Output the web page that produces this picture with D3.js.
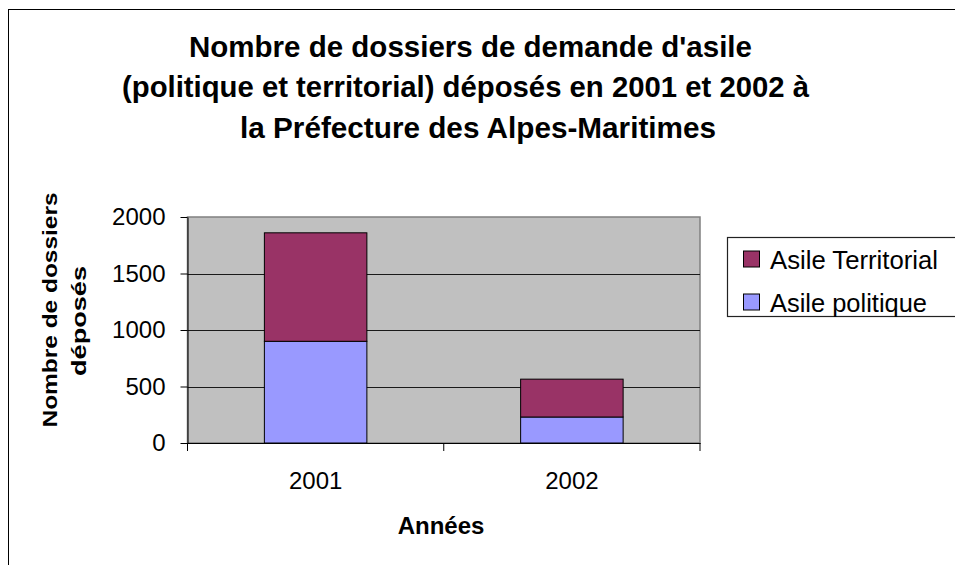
<!DOCTYPE html>
<html>
<head>
<meta charset="utf-8">
<script src="https://cdn.jsdelivr.net/npm/d3@7"></script>
<style>
  html, body { margin: 0; padding: 0; background: #fff; }
  svg { display: block; font-family: "Liberation Sans", Arial, sans-serif; }
</style>
</head>
<body>
<svg id="chart" width="955" height="565"></svg>
<script>
// ---- data ----
const years = ["2001", "2002"];
const asilePolitique = [900, 230];
const asileTerritorial = [960, 335];
const seriesNames = ["Asile politique", "Asile Territorial"];
const seriesColors = ["#9999FF", "#993366"];
const yTicks = [0, 500, 1000, 1500, 2000];
const titleLines = [
  "Nombre de dossiers de demande d'asile",
  "(politique et territorial) déposés en 2001 et 2002 à",
  "la Préfecture des Alpes-Maritimes"
];
const yLabelLines = ["Nombre de dossiers", "déposés"];
const xLabel = "Années";

// ---- layout ----
const W = 955, H = 565;
const plot = { left: 187.5, right: 700, top: 217, bottom: 443 };

const svg = d3.select("#chart");

// outer frame (right/bottom are outside the picture)
svg.append("rect")
  .attr("x", 8.5).attr("y", 9.5)
  .attr("width", W + 20).attr("height", H + 20)
  .attr("fill", "#fff").attr("stroke", "#000").attr("stroke-width", 1);

// title
const titleLayout = [
  { x: 189, y: 57, w: 563 },
  { x: 122, y: 97, w: 687 },
  { x: 240, y: 138, w: 476 }
];
titleLines.forEach((t, i) => {
  svg.append("text")
    .attr("x", titleLayout[i].x).attr("y", titleLayout[i].y)
    .attr("font-size", 30).attr("font-weight", "bold")
    .attr("textLength", titleLayout[i].w)
    .attr("lengthAdjust", "spacingAndGlyphs")
    .attr("fill", "#000")
    .text(t);
});

// scales
const x = d3.scaleBand().domain(years).range([plot.left, plot.right]).padding(0);
const y = d3.scaleLinear().domain([0, 2000]).range([plot.bottom, plot.top]);

// plot background
svg.append("rect")
  .attr("x", plot.left).attr("y", plot.top)
  .attr("width", plot.right - plot.left).attr("height", plot.bottom - plot.top)
  .attr("fill", "#C0C0C0").attr("stroke", "#808080").attr("stroke-width", 1.5);

// gridlines
svg.append("g").selectAll("line")
  .data(yTicks.filter(d => d > 0 && d < 2000))
  .join("line")
  .attr("x1", plot.left).attr("x2", plot.right)
  .attr("y1", d => Math.round(y(d)) + 0.5).attr("y2", d => Math.round(y(d)) + 0.5)
  .attr("stroke", "#1a1a1a").attr("stroke-width", 1);

// stacked bars
const table = years.map((yr, i) => ({
  year: yr,
  "Asile politique": asilePolitique[i],
  "Asile Territorial": asileTerritorial[i]
}));
const stacked = d3.stack().keys(seriesNames)(table);
const barFrac = 0.4;
const bw = x.bandwidth() * barFrac;
svg.append("g").selectAll("g")
  .data(stacked)
  .join("g")
  .attr("fill", (d, i) => seriesColors[i])
  .selectAll("rect")
  .data(d => d)
  .join("rect")
  .attr("x", d => x(d.data.year) + (x.bandwidth() - bw) / 2)
  .attr("width", bw)
  .attr("y", d => y(d[1]))
  .attr("height", d => y(d[0]) - y(d[1]))
  .attr("stroke", "#000").attr("stroke-width", 1);

// y axis
const yAxis = svg.append("g")
  .attr("transform", `translate(${plot.left},0)`)
  .call(d3.axisLeft(y).tickValues(yTicks).tickFormat(d3.format("d"))
    .tickSize(7).tickPadding(15).tickSizeOuter(0));
yAxis.select(".domain").attr("stroke", "#000");
yAxis.selectAll(".tick line").attr("stroke", "#000");
yAxis.selectAll("text")
  .attr("font-size", 24).attr("fill", "#000")
  .attr("font-family", "Liberation Sans, Arial, sans-serif");

// x axis (labels at band centres, ticks at band boundaries)
const xAxis = svg.append("g")
  .attr("transform", `translate(0,${plot.bottom})`)
  .call(d3.axisBottom(x).tickSize(0).tickPadding(29).tickSizeOuter(0));
xAxis.select(".domain").attr("stroke", "#000");
xAxis.selectAll("text")
  .attr("font-size", 24).attr("fill", "#000")
  .attr("font-family", "Liberation Sans, Arial, sans-serif");
const boundaries = years.map(d => x(d)).concat([x.range()[1]]);
svg.append("g").selectAll("line")
  .data(boundaries)
  .join("line")
  .attr("x1", d => d).attr("x2", d => d)
  .attr("y1", plot.bottom).attr("y2", plot.bottom + 8)
  .attr("stroke", "#000").attr("stroke-width", 1);

// x axis title
svg.append("text")
  .attr("x", 441).attr("y", 534)
  .attr("text-anchor", "middle")
  .attr("font-size", 24).attr("font-weight", "bold")
  .text(xLabel);

// y axis title (two lines, rotated)
const yLabLayout = [
  { bx: 57, cy: 310, w: 235 },
  { bx: 86, cy: 321, w: 110 }
];
yLabelLines.forEach((t, i) => {
  svg.append("text")
    .attr("transform", `translate(${yLabLayout[i].bx},${yLabLayout[i].cy}) rotate(-90)`)
    .attr("text-anchor", "middle")
    .attr("font-size", 21).attr("font-weight", "bold")
    .attr("textLength", yLabLayout[i].w)
    .attr("lengthAdjust", "spacingAndGlyphs")
    .text(t);
});

// legend
const legend = svg.append("g");
legend.append("rect")
  .attr("x", 727.5).attr("y", 237.5)
  .attr("width", 240).attr("height", 79)
  .attr("fill", "#fff").attr("stroke", "#222").attr("stroke-width", 1.2);
const legendItems = [
  { name: seriesNames[1], color: seriesColors[1], cy: 259.5, w: 168 },
  { name: seriesNames[0], color: seriesColors[0], cy: 302.5, w: 157 }
];
legendItems.forEach(it => {
  legend.append("rect")
    .attr("x", 743.5).attr("y", it.cy - 8.5)
    .attr("width", 16).attr("height", 16)
    .attr("fill", it.color).attr("stroke", "#000").attr("stroke-width", 1);
  legend.append("text")
    .attr("x", 770).attr("y", it.cy + 9)
    .attr("font-size", 26)
    .attr("textLength", it.w)
    .attr("lengthAdjust", "spacingAndGlyphs")
    .text(it.name);
});
</script>
</body>
</html>
